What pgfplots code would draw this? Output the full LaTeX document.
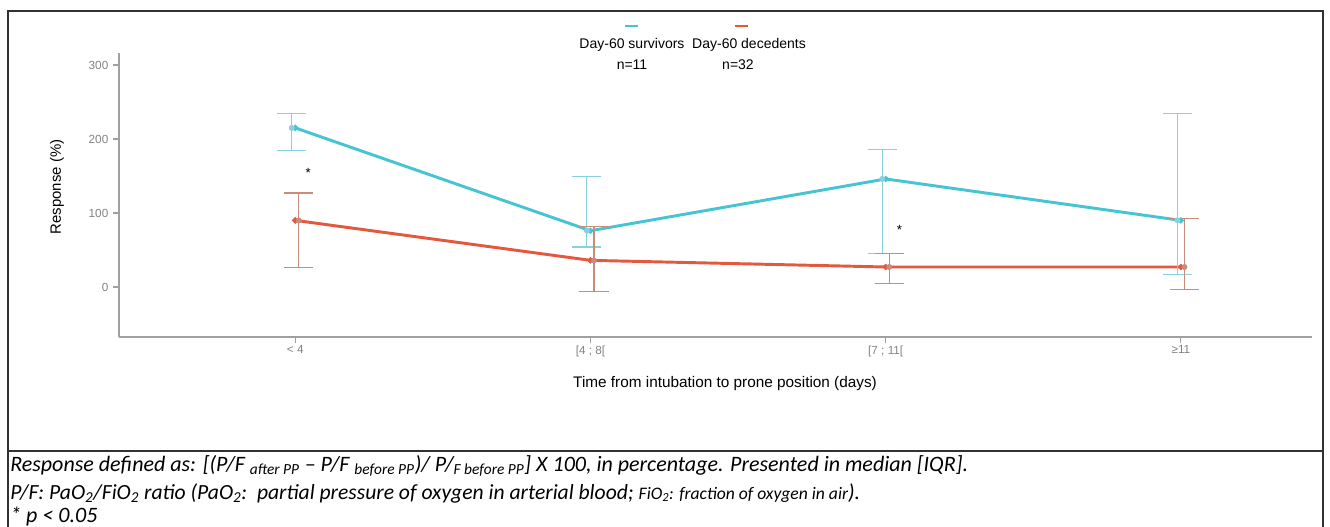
\documentclass[border=0pt]{standalone}
\usepackage{fontspec}
\setmainfont{Liberation Sans}
\newfontfamily\calib{Carlito}
\usepackage{pgfplots}
\pgfplotsset{compat=1.18}
\definecolor{survline}{RGB}{70,196,212}
\definecolor{decline}{RGB}{228,88,62}
\definecolor{surverr}{RGB}{135,208,222}
\definecolor{decerr}{RGB}{200,140,122}
\definecolor{axgray}{RGB}{160,160,160}
\definecolor{tickgray}{RGB}{130,130,130}
\definecolor{framec}{RGB}{50,50,50}
\begin{document}
\begin{tikzpicture}
\path[use as bounding box] (0,0) rectangle (997.5pt,-395.25pt);
\begin{axis}[
  at={(89.25pt,-252.75pt)}, anchor=south west,
  scale only axis, width=894.75pt, height=213.2pt,
  xmin=0.403, xmax=4.444, ymin=-67.6, ymax=316.6,
  axis lines=left, axis line style={-, draw=axgray, line width=1.1pt},
  tick style={draw=axgray, line width=0.8pt}, tick align=outside, major tick length=4.5pt,
  xtick={1,2,3,4}, xticklabels={{< 4},{[4 ; 8[},{[7 ; 11[},{≥11}},
  ytick={0,100,200,300},
  ticklabel style={font=\fontsize{8.8}{10}\selectfont, text=tickgray},
  xticklabel style={yshift=1.5pt},
  /pgf/number format/assume math mode=true,
  xlabel={Time from intubation to prone position (days)},
  ylabel={Response (\%)},
  every axis x label/.style={at={(axis description cs:0.508,0)}, yshift=-35.25pt, anchor=center, font=\fontsize{11.5}{13}\selectfont},
  every axis y label/.style={at={(axis description cs:0,0.528)}, xshift=-46.5pt, rotate=90, anchor=center, font=\fontsize{11.2}{13}\selectfont},
  clip=false,
]
% survivors median line
\addplot[survline, line width=2.2pt, mark=*, mark size=1pt] coordinates {(1,215) (2,76) (3,146) (4,90)};
% decedents median line
\addplot[decline, line width=2.2pt, mark=*, mark size=1pt] coordinates {(1,90) (2,36) (3,27) (4,27)};
% IQR survivors
\addplot[forget plot, surverr, only marks, mark=none,
  error bars/.cd, y dir=both, y explicit,
  error bar style={surverr, line width=0.8pt},
  error mark options={surverr, line width=0.8pt, mark size=10.9pt, rotate=90}]
  coordinates {(0.988,215) += (0,19) -= (0,30)
               (1.988,76) += (0,73) -= (0,22)
               (2.988,146) += (0,40) -= (0,101)
               (3.988,90) += (0,144) -= (0,73)};
% IQR decedents
\addplot[forget plot, decerr, only marks, mark=none,
  error bars/.cd, y dir=both, y explicit,
  error bar style={decerr, line width=0.8pt},
  error mark options={decerr, line width=0.8pt, mark size=10.9pt, rotate=90}]
  coordinates {(1.012,90) += (0,37) -= (0,64)
               (2.012,36) += (0,46) -= (0,42)
               (3.012,27) += (0,18) -= (0,22)
               (4.012,27) += (0,65) -= (0,31)};
\node[font=\fontsize{10}{10}\selectfont] at (axis cs:1.044,154) {*};
\node[font=\fontsize{10}{10}\selectfont] at (axis cs:3.047,77) {*};
\end{axis}
\begin{scope}[x=0.75pt,y=-0.75pt]
% frame
\draw[framec, line width=1.3pt] (8,527) -- (8,11) -- (1323,11) -- (1323,527);
\draw[framec, line width=1.3pt] (8,451) -- (1323,451);
% legend keys
\draw[survline, line width=1.6pt] (625,26) -- (638,26);
\draw[decline, line width=1.6pt] (735,26) -- (748,26);
\node[font=\fontsize{10.5}{12}\selectfont] at (632,45) {Day-60 survivors};
\node[font=\fontsize{10.5}{12}\selectfont] at (749,45) {Day-60 decedents};
\node[font=\fontsize{10.5}{12}\selectfont] at (632,65) {n=11};
\node[font=\fontsize{10.5}{12}\selectfont] at (738,65) {n=32};
% footnote
\node[anchor=base west, inner sep=0pt, font=\calib\itshape\fontsize{16.5}{18}\selectfont] at (10,471)
  {Response defined as: [(P/F \textsubscript{after PP} – P/F \textsubscript{before PP})/ P/\textsubscript{F before PP}] X 100, in percentage. Presented in median [IQR].};
\node[anchor=base west, inner sep=0pt, font=\calib\itshape\fontsize{16.2}{18}\selectfont] at (10,499)
  {P/F: PaO\textsubscript{2}/FiO\textsubscript{2} ratio (PaO\textsubscript{2}:\ \ partial pressure of oxygen in arterial blood; {\fontsize{13.2}{15}\selectfont FiO\textsubscript{2}: fraction of oxygen in air}).};
\node[anchor=base west, inner sep=0pt, font=\calib\itshape\fontsize{16.5}{18}\selectfont] at (10,522)
  {* p < 0.05};
\end{scope}
\end{tikzpicture}
\end{document}
